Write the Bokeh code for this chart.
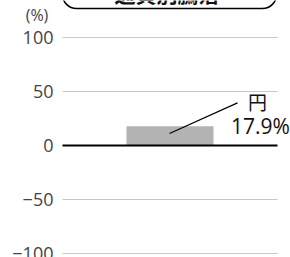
from bokeh.plotting import figure
from bokeh.models import Range1d
from bokeh.embed import file_html
from bokeh.resources import INLINE

title_text = "通貨別騰落"
categories = ["円"]
values = [17.9]
ticks = [-100, -50, 0, 50, 100]
unit_label = "(%)"

FONT = "Noto Sans CJK JP"
NUM_FONT = "Open Sans"
W, H = 290, 257

# frame covers the whole canvas; x in 0..1 across the width
p = figure(width=W, height=H, output_backend="svg", toolbar_location=None,
           x_range=Range1d(0, 1), y_range=Range1d(-103.7, 134.26),
           min_border=0)
p.outline_line_color = None
p.axis.visible = False
p.grid.visible = False
p.background_fill_color = "white"

x0, x1 = 62 / W, 277 / W
tick_labels = [str(t).replace("-", "−") for t in ticks]
grid_ticks = [t for t in ticks if t != 0]

# gridlines
p.segment(x0=[x0] * len(grid_ticks), y0=grid_ticks, x1=[x1] * len(grid_ticks), y1=grid_ticks,
          line_color="#c8c8c8", line_width=1)

# tick labels
p.text(x=[53 / W] * len(ticks), y=ticks, text=tick_labels, text_font={"value": NUM_FONT},
       text_font_size="18px", text_color="#444444", text_align="right",
       text_baseline="middle")
p.text(x=[36.5 / W], y=[120.4], text=[unit_label], text_font={"value": NUM_FONT},
       text_font_size="16px", text_color="#444444", text_align="center",
       text_baseline="middle")

# bar
p.vbar(x=[169.5 / W], top=values, bottom=0, width=87 / W,
       fill_color="#b3b3b3", line_color=None)

# zero line
p.segment(x0=[x0], y0=[0], x1=[x1], y1=[0], line_color="black", line_width=2)

# leader + labels
v = values[0]
p.segment(x0=[169 / W], y0=[v * 0.62], x1=[237 / W], y1=[39.5],
          line_color="black", line_width=1.2)
p.text(x=[257 / W], y=[40.7], text=categories, text_font={"value": FONT},
       text_font_size="19px", text_color="#111111", text_align="center",
       text_baseline="middle")
p.text(x=[260 / W], y=[v], text=[f"{v}%"], text_font={"value": NUM_FONT},
       text_font_size="21px", text_color="#111111", text_align="center",
       text_baseline="middle")

# title box (cut off at top)
p.quad(left=[62 / W], right=[276 / W], bottom=[126.85], top=[160],
       fill_color="white", line_color="black", line_width=1.5, border_radius=14)
p.text(x=[166.5 / W], y=[141.5], text=[title_text], text_font={"value": FONT},
       text_font_size="21px", text_font_style="bold", text_color="#111111",
       text_align="center", text_baseline="middle")

open("out.html", "w").write(file_html(p, INLINE))
